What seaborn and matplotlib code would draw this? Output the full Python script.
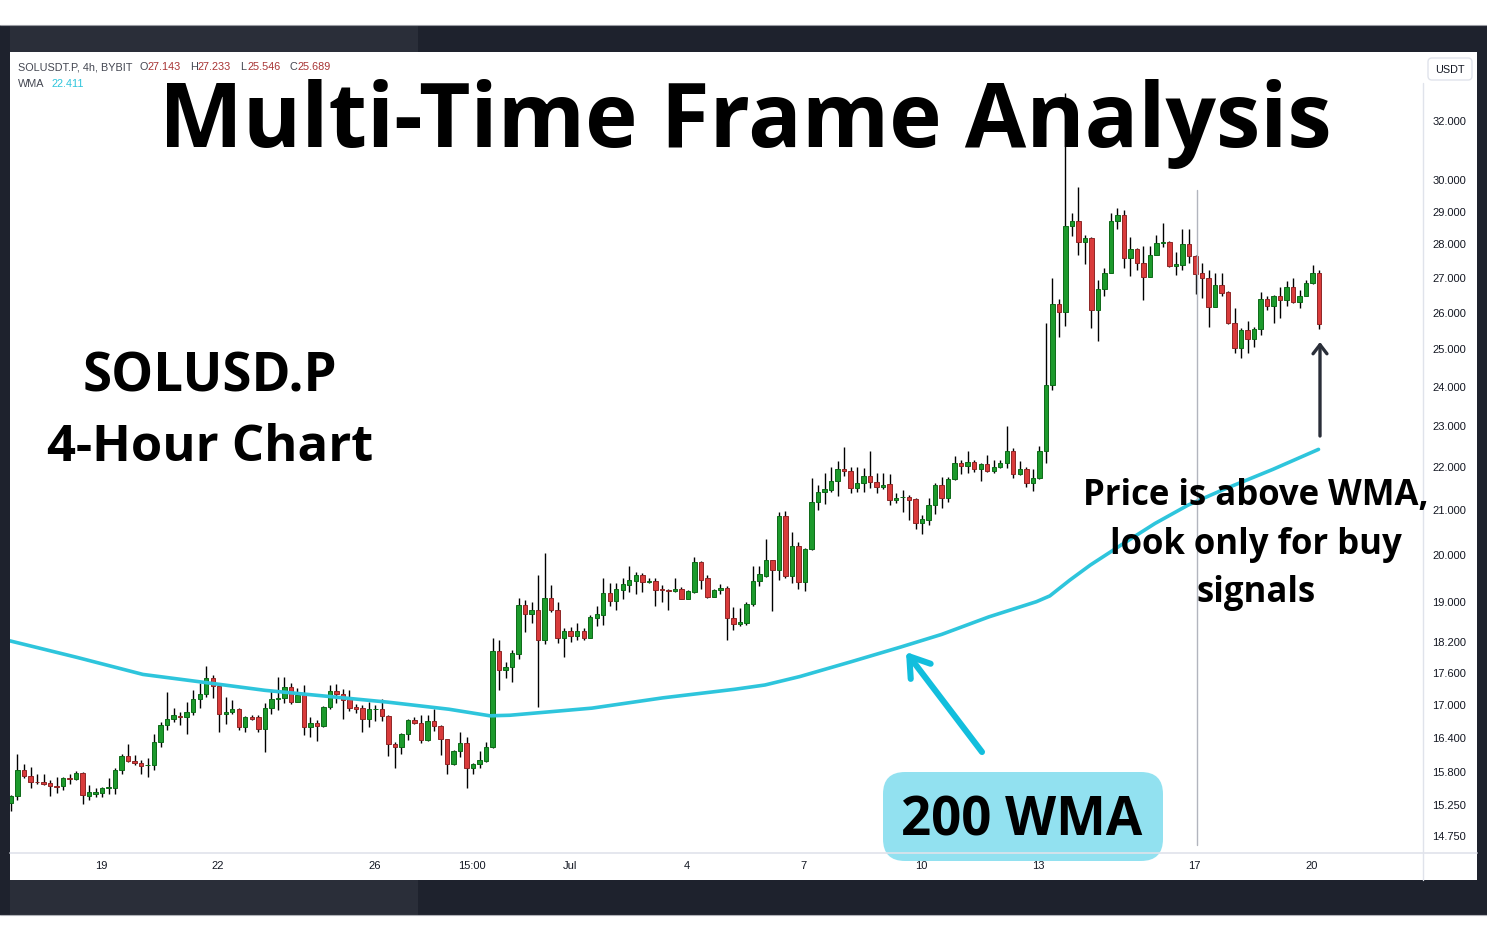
import matplotlib
matplotlib.use("Agg")
import matplotlib.pyplot as plt
import seaborn as sns
import numpy as np
from matplotlib.patches import Rectangle, FancyBboxPatch
from matplotlib.ticker import FixedLocator, FuncFormatter, NullLocator

# ---------------- data ----------------
opens = [15.29, 15.40, 15.85, 15.74, 15.64, 15.64, 15.62, 15.57, 15.57, 15.71,
         15.68, 15.79, 15.41, 15.44, 15.45, 15.54, 15.54, 15.84, 16.09, 16.00,
         15.97, 15.92, 15.92, 16.33, 16.63, 16.74, 16.80, 16.78, 16.87, 17.11,
         17.20, 17.51, 17.36, 16.83, 16.87, 16.93, 16.59, 16.77, 16.77, 16.57,
         16.94, 17.11, 17.13, 17.34, 17.05, 17.18, 16.59, 16.67, 16.61, 16.96,
         17.25, 17.21, 17.10, 16.96, 16.94, 16.74, 16.92, 16.92, 16.80, 16.30,
         16.25, 16.48, 16.73, 16.67, 16.37, 16.71, 16.61, 16.38, 15.94, 16.18,
         16.31, 15.87, 15.94, 16.00, 16.24, 18.03, 17.65, 17.71, 17.97, 18.95,
         18.75, 18.85, 18.24, 19.08, 18.85, 18.28, 18.42, 18.31, 18.42, 18.28,
         18.67, 18.74, 19.19, 19.02, 19.26, 19.35, 19.45, 19.56, 19.42, 19.45,
         19.28, 19.26, 19.23, 19.28, 19.06, 19.22, 19.85, 19.50, 19.10, 19.26,
         19.30, 18.68, 18.56, 18.57, 18.96, 19.45, 19.55, 19.88, 19.68, 20.87,
         19.55, 20.20, 19.41, 20.13, 21.18, 21.41, 21.45, 21.67, 21.96, 21.91,
         21.51, 21.61, 21.79, 21.65, 21.52, 21.59, 21.22, 21.29, 21.30, 21.24,
         20.71, 20.77, 21.11, 21.56, 21.26, 21.71, 22.08, 22.01, 22.12, 21.94,
         22.06, 21.90, 22.00, 22.08, 22.39, 21.83, 21.94, 21.62, 21.73, 22.39,
         24.04, 26.24, 26.03, 28.56, 28.72, 28.08, 28.18, 26.08, 26.68, 27.15,
         28.72, 28.90, 27.58, 27.86, 27.45, 27.03, 27.68, 28.05, 28.08, 27.35,
         27.38, 28.01, 27.63, 27.13, 26.99, 26.15, 26.78, 26.58, 25.72, 25.01,
         25.51, 25.28, 25.54, 26.39, 26.19, 26.48, 26.36, 26.74, 26.29, 26.48,
         26.86, 27.143]
highs = [15.42, 16.12, 15.94, 15.90, 15.78, 15.77, 15.67, 15.72, 15.72, 15.78,
         15.83, 15.81, 15.58, 15.53, 15.55, 15.70, 15.87, 16.12, 16.30, 16.11,
         16.02, 16.05, 16.48, 16.69, 17.23, 16.95, 16.87, 17.06, 17.28, 17.40,
         17.74, 17.56, 17.40, 17.15, 17.09, 16.95, 16.79, 16.81, 16.81, 17.04,
         17.28, 17.52, 17.52, 17.41, 17.31, 17.37, 16.78, 16.72, 16.98, 17.37,
         17.39, 17.29, 17.28, 17.02, 17.00, 17.06, 17.00, 17.11, 16.81, 16.33,
         16.49, 16.75, 16.77, 16.81, 16.81, 16.93, 16.64, 16.39, 16.19, 16.50,
         16.41, 15.97, 16.17, 16.33, 18.27, 18.24, 17.81, 18.05, 19.08, 19.04,
         19.00, 19.56, 20.05, 19.35, 19.00, 18.47, 18.50, 18.57, 18.47, 18.74,
         18.92, 19.50, 19.39, 19.39, 19.50, 19.76, 19.63, 19.60, 19.50, 19.50,
         19.35, 19.28, 19.50, 19.31, 19.25, 19.95, 19.87, 19.56, 19.28, 19.38,
         19.33, 18.90, 18.89, 19.00, 19.75, 19.75, 20.34, 19.89, 20.96, 20.97,
         20.49, 20.29, 20.14, 21.73, 21.57, 21.86, 21.99, 22.14, 22.47, 21.99,
         21.99, 21.97, 22.39, 21.86, 21.86, 21.82, 21.38, 21.45, 21.35, 21.26,
         20.88, 21.28, 21.61, 21.77, 21.77, 22.26, 22.17, 22.39, 22.16, 22.10,
         22.29, 22.16, 22.16, 23.00, 22.45, 22.14, 22.00, 21.94, 22.50, 25.71,
         27.00, 26.38, 33.00, 28.95, 29.80, 28.28, 28.23, 26.94, 27.28, 28.95,
         29.11, 29.06, 28.23, 27.88, 27.94, 27.94, 28.28, 28.66, 28.11, 27.75,
         28.46, 28.46, 27.68, 27.43, 27.23, 27.13, 27.13, 26.62, 26.12, 25.56,
         25.77, 25.59, 26.60, 26.46, 26.51, 26.74, 26.92, 26.99, 26.65, 26.94,
         27.38, 27.233]
lows = [15.16, 15.34, 15.70, 15.54, 15.60, 15.58, 15.41, 15.45, 15.50, 15.60,
        15.67, 15.27, 15.33, 15.39, 15.39, 15.44, 15.43, 15.78, 15.98, 15.92,
        15.78, 15.72, 15.84, 16.24, 16.55, 16.69, 16.63, 16.48, 16.81, 16.95,
        17.15, 17.12, 16.50, 16.65, 16.83, 16.54, 16.50, 16.72, 16.51, 16.15,
        16.84, 16.90, 17.03, 17.02, 17.05, 16.46, 16.41, 16.34, 16.60, 16.92,
        17.03, 16.74, 16.89, 16.86, 16.50, 16.60, 16.70, 16.71, 16.08, 15.87,
        16.12, 16.36, 16.65, 16.32, 16.34, 16.53, 16.11, 15.77, 15.92, 16.07,
        15.53, 15.77, 15.87, 15.98, 16.23, 17.28, 17.51, 17.42, 17.86, 18.40,
        18.57, 16.96, 18.15, 18.80, 18.17, 17.90, 18.20, 18.23, 18.24, 18.28,
        18.52, 18.54, 18.93, 18.85, 19.06, 19.22, 19.16, 19.22, 19.39, 18.92,
        19.00, 18.85, 19.22, 19.06, 19.06, 19.20, 19.28, 19.08, 19.10, 19.16,
        18.24, 18.43, 18.52, 18.54, 18.92, 19.34, 19.53, 18.81, 19.47, 19.50,
        19.39, 19.28, 19.23, 20.10, 21.00, 21.13, 21.40, 21.32, 21.78, 21.39,
        21.40, 21.40, 21.49, 21.38, 21.47, 21.11, 21.15, 20.95, 20.77, 20.56,
        20.45, 20.65, 20.90, 21.05, 21.18, 21.69, 21.82, 21.86, 21.88, 21.67,
        21.88, 21.85, 21.98, 21.98, 21.73, 21.80, 21.53, 21.44, 21.72, 22.08,
        23.90, 25.31, 25.63, 28.26, 27.68, 27.41, 25.56, 25.22, 26.48, 27.13,
        28.46, 27.28, 27.05, 27.23, 26.36, 27.01, 27.66, 27.93, 27.33, 27.08,
        27.23, 27.43, 26.54, 26.41, 25.61, 26.15, 26.46, 25.68, 24.88, 24.74,
        24.88, 25.06, 25.38, 26.06, 25.72, 25.86, 26.19, 26.27, 26.12, 26.46,
        26.82, 25.546]
closes = [15.40, 15.84, 15.74, 15.63, 15.63, 15.61, 15.57, 15.56, 15.71, 15.68,
          15.79, 15.42, 15.47, 15.47, 15.54, 15.55, 15.84, 16.09, 15.99, 15.96,
          15.91, 15.93, 16.33, 16.63, 16.75, 16.81, 16.78, 16.87, 17.11, 17.20,
          17.51, 17.36, 16.83, 16.87, 16.93, 16.59, 16.77, 16.75, 16.57, 16.95,
          17.11, 17.13, 17.34, 17.06, 17.18, 16.59, 16.67, 16.61, 16.97, 17.25,
          17.21, 17.09, 16.95, 16.92, 16.74, 16.92, 16.93, 16.80, 16.29, 16.25,
          16.48, 16.73, 16.67, 16.37, 16.71, 16.61, 16.38, 15.94, 16.18, 16.31,
          15.87, 15.94, 16.01, 16.24, 18.03, 17.65, 17.71, 17.99, 18.95, 18.75,
          18.85, 18.24, 19.08, 18.83, 18.28, 18.42, 18.31, 18.42, 18.28, 18.69,
          18.75, 19.19, 19.02, 19.28, 19.37, 19.46, 19.56, 19.41, 19.45, 19.26,
          19.25, 19.23, 19.28, 19.06, 19.24, 19.85, 19.47, 19.10, 19.26, 19.30,
          18.67, 18.56, 18.59, 18.97, 19.45, 19.59, 19.88, 19.68, 20.87, 19.55,
          20.20, 19.41, 20.13, 21.18, 21.42, 21.47, 21.67, 21.96, 21.91, 21.51,
          21.61, 21.79, 21.63, 21.53, 21.57, 21.22, 21.28, 21.30, 21.22, 20.71,
          20.79, 21.11, 21.56, 21.26, 21.72, 22.08, 22.01, 22.12, 21.94, 22.06,
          21.90, 22.00, 22.10, 22.39, 21.83, 21.94, 21.62, 21.74, 22.39, 24.04,
          26.24, 26.03, 28.56, 28.72, 28.08, 28.18, 26.08, 26.68, 27.15, 28.72,
          28.90, 27.58, 27.86, 27.45, 27.03, 27.68, 28.05, 28.08, 27.35, 27.41,
          28.01, 27.63, 27.11, 26.99, 26.15, 26.78, 26.55, 25.72, 25.01, 25.51,
          25.28, 25.54, 26.39, 26.19, 26.48, 26.36, 26.74, 26.29, 26.48, 26.86,
          27.13, 25.689]

# 200 WMA line, sampled along the chart (candle index, value)
wma_index = [-0.15, 10.06, 20.28, 29.65, 39.02, 48.47, 57.92, 67.29, 73.59, 76.66,
             89.26, 100.17, 111.23, 115.84, 121.22, 129.0, 136.73, 143.03, 150.25,
             157.55, 159.62, 162.69, 165.84, 170.53, 175.76, 180.9, 186.05, 193.89,
             200.9]
wma_values = [18.22, 17.90, 17.57, 17.42, 17.27, 17.16, 17.05, 16.92, 16.80, 16.81,
              16.94, 17.13, 17.29, 17.37, 17.53, 17.81, 18.10, 18.35, 18.70,
              19.01, 19.13, 19.46, 19.78, 20.21, 20.69, 21.11, 21.45, 21.94,
              22.42]

price_ticks = [32, 30, 29, 28, 27, 26, 25, 24, 23, 22, 21, 20, 19, 18.2, 17.6,
               17, 16.4, 15.8, 15.25, 14.75]
time_tick_labels = ["19", "22", "26", "15:00", "Jul", "4", "7", "10", "13", "17", "20"]
time_tick_candles = [13.83, 31.83, 55.83, 70.83, 85.83, 103.83, 121.83, 139.83,
                     157.83, 181.83, 199.83]

# ---------------- figure ----------------
sns.set_theme(style="white")
plt.rcParams['font.family'] = ['Liberation Sans', 'DejaVu Sans']

W, H = 1487, 941
fig = plt.figure(figsize=(W / 100, H / 100), dpi=100, facecolor="white")


def fx(x):
    return x / W


def fy(y):
    return 1 - y / H


# price pane
ax = fig.add_axes([fx(10), fy(853), fx(1422) - fx(10), fy(52) - fy(853)])
ax.set_facecolor("white")

o = np.array(opens)
h = np.array(highs)
l = np.array(lows)
c = np.array(closes)
idx = np.arange(len(o))
up = c >= o
body_bottom = np.minimum(o, c)
body_height = np.abs(c - o)
face = np.where(up, "#1c9a2c", "#d93b3b")
edge = np.where(up, "#0d6a18", "#8f2626")

ax.vlines(idx, l, h, color="black", lw=1.0, zorder=2)
ax.bar(idx, body_height, bottom=body_bottom, width=0.68, color=face,
       edgecolor=edge, linewidth=0.7, zorder=3)

sns.lineplot(x=wma_index, y=wma_values, ax=ax, color="#2ec5dc", lw=2.6,
             zorder=4, sort=False)

ax.set_yscale("log")
ax.set_ylim(14.48, 34.48)
ax.set_xlim(-0.15, 216.8)
ax.yaxis.tick_right()
ax.yaxis.set_major_locator(FixedLocator(price_ticks))
ax.yaxis.set_minor_locator(NullLocator())
ax.yaxis.set_major_formatter(FuncFormatter(lambda v, p: f"{v:.3f}"))
ax.tick_params(axis="y", length=0, pad=7.5, labelsize=8, labelcolor="#131722")
ax.set_xticks(time_tick_candles)
ax.set_xticklabels(time_tick_labels)
ax.tick_params(axis="x", length=0, pad=5.5, labelsize=8, labelcolor="#131722")
for s in ax.spines.values():
    s.set_visible(False)
ax.grid(False)

# overlay in pixel coordinates
ov = fig.add_axes([0, 0, 1, 1], zorder=10)
ov.set_xlim(0, W)
ov.set_ylim(H, 0)
ov.axis("off")
ov.patch.set_alpha(0)

dark = "#1e222d"
dark2 = "#2a2e39"
# frame
ov.add_patch(Rectangle((0, 25), W, 27, color=dark, lw=0))
ov.add_patch(Rectangle((0, 25), 418, 27, color=dark2, lw=0))
ov.add_patch(Rectangle((0, 880), W, 35, color=dark, lw=0))
ov.add_patch(Rectangle((0, 880), 418, 35, color=dark2, lw=0))
ov.add_patch(Rectangle((0, 25), 10, 890, color=dark, lw=0))
ov.add_patch(Rectangle((1477, 25), 10, 890, color=dark, lw=0))
ov.plot([0, W], [25, 25], color="#9a9ca3", lw=0.8)
ov.plot([0, W], [915, 915], color="#b0b2b8", lw=0.8)

# pane separators
ov.plot([10, 1477], [853, 853], color="#e0e3eb", lw=1.2)
ov.plot([1422.5, 1422.5], [83, 880], color="#e0e3eb", lw=1.0)

# USDT box
ov.add_patch(FancyBboxPatch((1428, 58), 44, 22, boxstyle="round,pad=0,rounding_size=4",
                            facecolor="white", edgecolor="#e0e3eb", lw=1))
ov.text(1450, 69.5, "USDT", ha="center", va="center", fontsize=7.8, color="#131722")

# legend
leg_grey = "#434651"
leg_red = "#a83434"
ov.text(18, 67, "SOLUSDT.P, 4h, BYBIT", ha="left", va="center", fontsize=7.8, color=leg_grey)
for xx, s, col in [(139, "O", leg_grey), (147, "27.143", leg_red),
                   (190.5, "H", leg_grey), (197.5, "27.233", leg_red),
                   (240.5, "L", leg_grey), (247, "25.546", leg_red),
                   (290, "C", leg_grey), (297, "25.689", leg_red),
                   (18, "WMA", leg_grey), (51, "22.411", "#2ec5dc")]:
    yy = 84 if s in ("WMA", "22.411") else 67
    ov.text(xx, yy, s, ha="left", va="center", fontsize=7.8, color=col)

# vertical cursor line
ov.plot([1197, 1197], [190, 845], color="#b2b5be", lw=1.0)

# big texts
big = ["Open Sans", "DejaVu Sans"]
ov.text(745, 147, "Multi-Time Frame Analysis", ha="center", va="baseline",
        fontsize=64, fontweight="bold", family=big, color="black")
ov.text(210, 392, "SOLUSD.P", ha="center", va="baseline", fontsize=38,
        fontweight="bold", family=big, color="black")
ov.text(210, 461, "4-Hour Chart", ha="center", va="baseline", fontsize=36.5,
        fontweight="bold", family=big, color="black")
for yy, s in [(505, "Price is above WMA,"), (554, "look only for buy"), (602, "signals")]:
    ov.text(1256, yy, s, ha="center", va="baseline", fontsize=25,
            fontweight="bold", family=big, color="black")

# 200 WMA box
ov.add_patch(FancyBboxPatch((883, 772), 280, 89, boxstyle="round,pad=0,rounding_size=22",
                            facecolor="#5fd4ea", alpha=0.68, edgecolor="none"))
ov.text(1022, 836, "200 WMA", ha="center", va="baseline", fontsize=38,
        fontweight="bold", family=big, color="black")

# arrows
ov.annotate("", xy=(906, 652), xytext=(982, 752),
            arrowprops=dict(arrowstyle="->,head_length=1.35,head_width=0.9",
                            mutation_scale=10, lw=4.4, color="#12bedd",
                            shrinkA=0, shrinkB=0, capstyle="round", joinstyle="round"))
ov.annotate("", xy=(1320, 342), xytext=(1320, 436),
            arrowprops=dict(arrowstyle="->,head_length=0.65,head_width=0.5",
                            mutation_scale=10, lw=2.4, color="#2a2e39",
                            shrinkA=0, shrinkB=0))

fig.savefig("out.png", dpi=100, facecolor="white")
